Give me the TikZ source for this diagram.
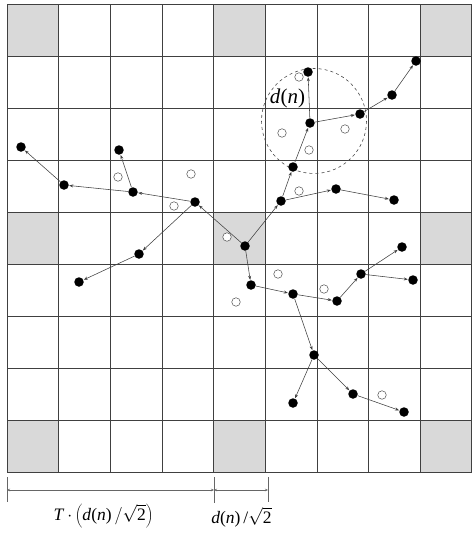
\RequirePackage{fix-cm}
\documentclass[tikz,border=0pt]{standalone}
\usepackage{fontspec}
\setmainfont{Liberation Serif}
\usetikzlibrary{arrows.meta}
\newcommand{\dnx}{\textit{d}(\textit{n})}
\begin{document}
\begin{tikzpicture}[x=1pt,y=-1pt,
  dot/.style={circle,fill=black,inner sep=0pt,minimum size=9.5pt},
  hole/.style={circle,draw=black!70,fill=white,line width=0.5pt,inner sep=0pt,minimum size=8.5pt},
  link/.style={draw=black!75,line width=0.55pt,-{Stealth[length=4pt,width=3pt]},shorten >=0.3pt},
  gridline/.style={draw=black!75,line width=0.8pt},
  dim/.style={draw=black!60,line width=0.5pt},
  lbl/.style={inner sep=0pt,font=\fontsize{17.5}{20}\selectfont}]
\useasboundingbox (0,0) rectangle (472,536);
\fill[white] (0,0) rectangle (472,536);
% gray cells
\foreach \i in {0,4,8}{
  \foreach \j in {0,4,8}{
    \fill[black!15] ({7+\i*51.65},{4.5+\j*51.95}) rectangle ({7+(\i+1)*51.65},{4.5+(\j+1)*51.95});
  }
}
% grid
\foreach \i in {0,...,9}{
  \draw[gridline] ({7+\i*51.65},4.5) -- ({7+\i*51.65},472);
  \draw[gridline] (7,{4.5+\i*51.95}) -- (471.8,{4.5+\i*51.95});
}
% dashed circle
\draw[dashed,black!70,line width=0.6pt] (314,121) circle (52.5);
\node[inner sep=0pt,font=\fontsize{21}{24}\selectfont] (dn) at (287.5,98) {\dnx};
% open circles
\foreach \p [count=\k] in {(118,177),(191,174),(174,206),(227,237),(236,302),(299,77),(282,133),(345,129),(309,150),(299,191),(278,274),(324,289),(382,395)}{
  \node[hole] (o\k) at \p {};
}
% black dots
\node[dot] (a1) at (21,147) {};
\node[dot] (a2) at (64,185) {};
\node[dot] (a3) at (119,150) {};
\node[dot] (a4) at (133,192) {};
\node[dot] (a5) at (195,202) {};
\node[dot] (b1) at (139,254) {};
\node[dot] (b2) at (79,282) {};
\node[dot] (c1) at (308,72) {};
\node[dot] (c2) at (310,123) {};
\node[dot] (c3) at (360,114) {};
\node[dot] (c4) at (392,95) {};
\node[dot] (c5) at (416,61) {};
\node[dot] (c6) at (293,167) {};
\node[dot] (c7) at (281,201) {};
\node[dot] (c8) at (336,189) {};
\node[dot] (c9) at (394,200) {};
\node[dot] (d0) at (245,246) {};
\node[dot] (d1) at (251,285) {};
\node[dot] (d2) at (293,294) {};
\node[dot] (d3) at (337,301) {};
\node[dot] (d4) at (361,274) {};
\node[dot] (d5) at (402,247) {};
\node[dot] (d6) at (413,280) {};
\node[dot] (d7) at (314,355) {};
\node[dot] (d8) at (293,403) {};
\node[dot] (d9) at (353,394) {};
\node[dot] (d10) at (404,412) {};
% connectors
\draw[link] (d0) -- (c7);
\draw[link] (c7) -- (c6);
\draw[link] (c6) -- (c2);
\draw[link] (c2) -- (c1);
\draw[link] (c2) -- (c3);
\draw[link] (c3) -- (c4);
\draw[link] (c4) -- (c5);
\draw[link] (c7) -- (c8);
\draw[link] (c8) -- (c9);
\draw[link] (d0) -- (a5);
\draw[link] (a5) -- (a4);
\draw[link] (a4) -- (a3);
\draw[link] (a4) -- (a2);
\draw[link] (a2) -- (a1);
\draw[link] (a5) -- (b1);
\draw[link] (b1) -- (b2);
\draw[link] (d0) -- (d1);
\draw[link] (d1) -- (d2);
\draw[link] (d2) -- (d3);
\draw[link] (d3) -- (d4);
\draw[link] (d4) -- (d5);
\draw[link] (d4) -- (d6);
\draw[link] (d2) -- (d7);
\draw[link] (d7) -- (d8);
\draw[link] (d7) -- (d9);
\draw[link] (d9) -- (d10);
% dimension lines
\coordinate (t0) at (7,490);
\coordinate (t1) at (214,490);
\coordinate (t2) at (268,490);
\draw[dim] (7,477) -- (7,502);
\draw[dim] (214,477) -- (214,503);
\draw[dim] (268,477) -- (268,502);
\draw[dim,{Stealth[length=3pt,width=2.5pt]}-{Stealth[length=3pt,width=2.5pt]}] (t0) -- (t1);
\draw[dim,{Stealth[length=3pt,width=2.5pt]}-{Stealth[length=3pt,width=2.5pt]}] (t1) -- (t2);
\node[lbl] (l1) at (103.5,516) {\textit{T}$\,\cdot\left(\mbox{\dnx}\,/\sqrt{\mbox{2}}\right)$};
\node[lbl] (l2) at (241.5,517) {\dnx\,/$\sqrt{\mbox{2}}$};
\end{tikzpicture}
\end{document}
